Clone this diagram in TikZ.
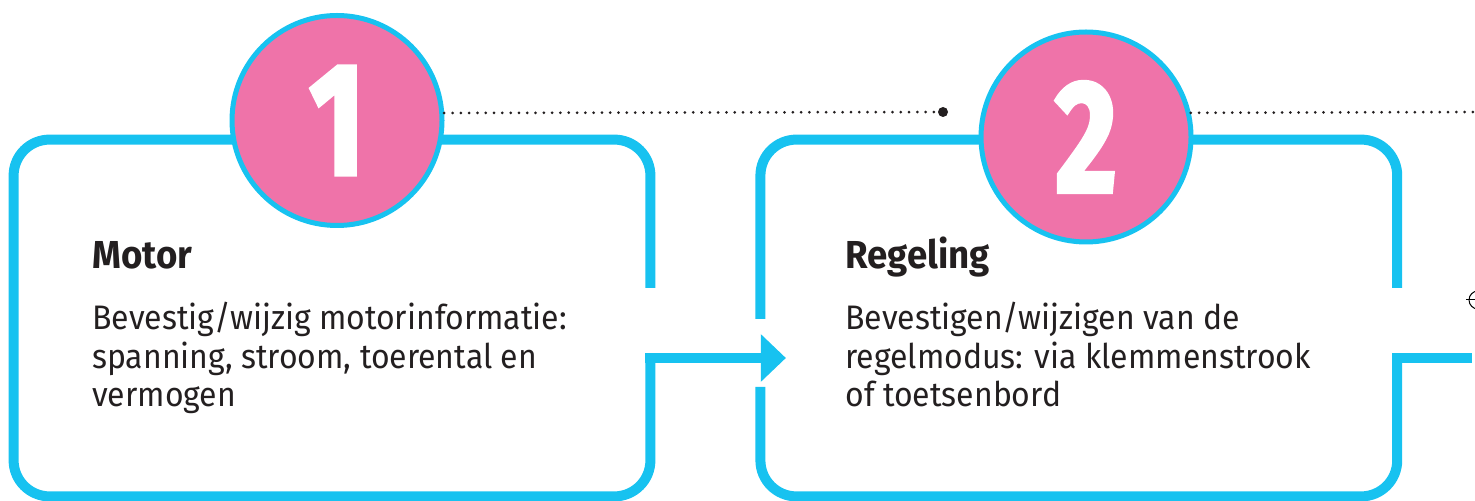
\documentclass[tikz,border=0pt]{standalone}
\usepackage{fontspec}
\setmainfont{Fira Sans}[FakeStretch=0.94]
\newfontfamily\cijferfont{Fira Sans}[FakeStretch=0.74,FakeBold=2.5]
\usetikzlibrary{arrows.meta,positioning,calc}
\definecolor{lijnblauw}{RGB}{23,194,240}
\definecolor{roze}{RGB}{239,115,169}
\definecolor{tekstgrijs}{RGB}{35,31,32}

\begin{document}
\begin{tikzpicture}[x=0.5pt,y=-0.5pt,
	kader/.style={draw=lijnblauw,line width=5pt,rounded corners=18pt},
	blok node/.style={minimum width=318pt,minimum height=178pt,inner sep=0pt},
	nummer node/.style={circle,fill=roze,draw=lijnblauw,line width=2.5pt,minimum size=105pt,inner sep=0pt,text=white,font=\cijferfont\bfseries\fontsize{80}{80}\selectfont},
	titel/.style={anchor=base west,inner sep=0pt,text=tekstgrijs,font=\bfseries\fontsize{19.5}{20}\selectfont},
	uitleg/.style={anchor=base west,inner sep=0pt,align=left,text=tekstgrijs,font=\fontsize{17}{19.25}\selectfont},
	stippel/.style={draw=tekstgrijs,line width=1.5pt,line cap=round,dash pattern=on 0pt off 4.15pt}]
	\clip (0,0) rectangle (1475,501);
	% De twee kaders (alleen als ankers)
	\node[blok node] (motor) at (332,318) {};
	\node[blok node, right=55pt of motor] (regeling) {};
	
	% Omlijning kader 1
	\draw[kader] ($(motor.east)+(0,-30)$) -- (motor.north east) -- (motor.north west)
		-- (motor.south west) -- (motor.south east) -- ($(motor.east)+(0,40)$);
	% Omlijning kader 2
	\draw[kader] ($(regeling.west)+(0,1)$) -- (regeling.north west) -- (regeling.north east)
		-- ($(regeling.east)+(0,-30)$);
	\draw[kader] ($(regeling.west)+(0,69)$) -- (regeling.south west) -- (regeling.south east)
		-- ($(regeling.east)+(0,40)$);
	
	% Pijl van stap 1 naar stap 2, en door naar de volgende stap
	\coordinate (volgende) at (1472,358);
	\draw[kader,-{Triangle[length=12.5pt,width=23pt]}] ($(motor.east)+(-5,40)$) -- ($(regeling.west)+(25.5,40)$);
	\draw[kader] ($(regeling.east)+(-5,40)$) -- (volgende);
	
	% Stippellijnen
	\node[circle,fill=tekstgrijs,minimum size=5pt,inner sep=0pt] (stop) at (943,112) {};
	\coordinate (rand) at (1475,112);
	
	% Nummers
	\node[nummer node] (n1) at (337,120.5) {1};
	\node[nummer node] (n2) at (1086,137) {2};
	\draw[stippel] (n1.4.5) -- (stop);
	\draw[stippel] (n2.13) -- (rand);
	
	% Teksten
	\node[titel] (t1) at (92,269) {Motor};
	\node[uitleg] (u1) at (92,407) {Bevestig/wijzig motorinformatie:\\spanning, stroom, toerental en\\vermogen};
	\node[titel] (t2) at (845,269) {Regeling};
	\node[uitleg] (u2) at (845,407) {Bevestigen/wijzigen van de\\regelmodus: via klemmenstrook\\of toetsenbord};
	
	% Snijteken aan de rand
	\draw[line width=0.5pt] (1478,300) circle (9);
	\draw[line width=0.5pt] (1466,300) -- (1475,300);
\end{tikzpicture}
\end{document}
